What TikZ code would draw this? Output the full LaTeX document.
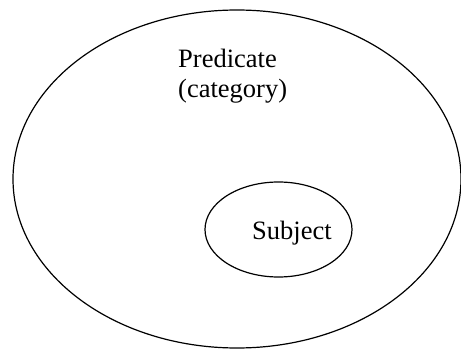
\documentclass[tikz,border=0pt]{standalone}
\usepackage{fontspec}
\setmainfont{Liberation Serif}
\usepackage{tikz}

\tikzset{
	word/.style={inner sep=0pt, anchor=base west, font=\fontsize{26.5}{30}\selectfont},
	set/.style={line width=1.2pt}
}

\begin{document}
\begin{tikzpicture}[x=1pt, y=-1pt]
	\useasboundingbox (0,0) rectangle (461,350);
	
	\draw [set] (237,179) ellipse [x radius=224, y radius=169];
	\draw [set] (278.5,229.5) ellipse [x radius=73.5, y radius=47.5];
	
	\node [word] (predicate) at (178,68) {Predicate};
	\node [word] (category) at (178,98) {(category)};
	\node [word] (subject) at (252,240) {Subject};
\end{tikzpicture}
\end{document}
